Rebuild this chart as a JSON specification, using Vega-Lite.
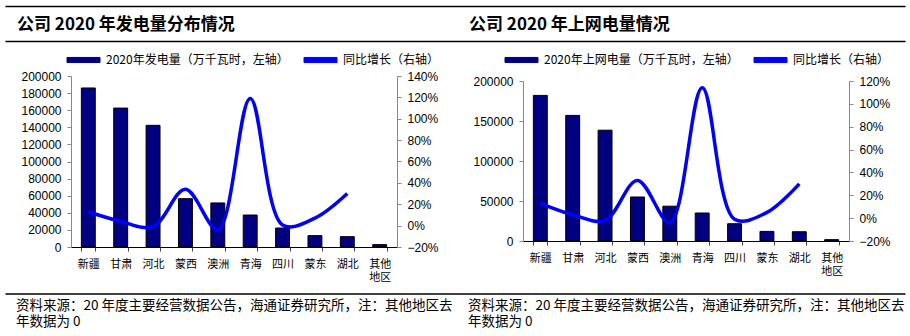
{
  "$schema": "https://vega.github.io/schema/vega-lite/v6.json",
  "padding": {"left": 5, "top": 6, "right": 5, "bottom": 0},
  "config": {"view": {"stroke": null}, "font": "Noto Sans CJK SC", "legend": {"labelLimit": 300}},
  "datasets": {
    "gen": [
      {"region": "新疆", "value": 186000, "yoy": 0.13},
      {"region": "甘肃", "value": 162500, "yoy": 0.04},
      {"region": "河北", "value": 142300, "yoy": -0.01},
      {"region": "蒙西", "value": 56500, "yoy": 0.34},
      {"region": "澳洲", "value": 51500, "yoy": -0.04},
      {"region": "青海", "value": 37400, "yoy": 1.19},
      {"region": "四川", "value": 22200, "yoy": 0.005},
      {"region": "蒙东", "value": 13300, "yoy": 0.07},
      {"region": "湖北", "value": 12100, "yoy": 0.30},
      {"region": "其他地区", "value": 2800, "yoy": null}
    ],
    "net": [
      {"region": "新疆", "value": 182000, "yoy": 0.13},
      {"region": "甘肃", "value": 157000, "yoy": 0.03},
      {"region": "河北", "value": 138500, "yoy": -0.02},
      {"region": "蒙西", "value": 55000, "yoy": 0.33},
      {"region": "澳洲", "value": 43500, "yoy": -0.04},
      {"region": "青海", "value": 35000, "yoy": 1.14},
      {"region": "四川", "value": 21600, "yoy": -0.01},
      {"region": "蒙东", "value": 12000, "yoy": 0.05},
      {"region": "湖北", "value": 11600, "yoy": 0.30},
      {"region": "其他地区", "value": 1700, "yoy": null}
    ]
  },
  "spacing": 7,
  "vconcat": [
    {
      "spacing": 0,
      "vconcat": [
        {
          "width": 900, "height": 29,
          "data": {"values": [{"left": "公司 2020 年发电量分布情况", "right": "公司 2020 年上网电量情况"}]},
          "layer": [
            {"mark": {"type": "text", "align": "left", "baseline": "middle", "fontSize": 17, "fontWeight": "bold", "dx": 12, "dy": 4.5, "color": "#000"},
             "encoding": {
               "text": {"field": "left"},
               "x": {"datum": 0, "type": "quantitative", "scale": {"domain": [0, 900], "nice": false},
                 "axis": {"orient": "top", "domain": true, "domainColor": "#000", "domainWidth": 1.5, "ticks": false, "labels": false, "grid": false, "title": null}},
               "y": {"datum": 0.5, "type": "quantitative", "scale": {"domain": [0, 1]}, "axis": null}}},
            {"mark": {"type": "text", "align": "left", "baseline": "middle", "fontSize": 17, "fontWeight": "bold", "dx": 14, "dy": 4.5, "color": "#000"},
             "encoding": {
               "text": {"field": "right"},
               "x": {"datum": 450, "type": "quantitative", "scale": {"domain": [0, 900], "nice": false}, "axis": null},
               "y": {"datum": 0.5, "type": "quantitative", "scale": {"domain": [0, 1]}, "axis": null}}}
          ],
          "resolve": {"scale": {"x": "independent"}, "axis": {"x": "independent"}}
        },
        {
          "width": 900, "height": 1,
          "data": {"values": [{"t": ""}]},
          "mark": {"type": "text"},
          "encoding": {
            "text": {"field": "t"},
            "x": {"datum": 0, "type": "quantitative", "scale": {"domain": [0, 900], "nice": false},
              "axis": {"orient": "top", "domain": true, "domainColor": "#000", "domainWidth": 1.5, "ticks": false, "labels": false, "grid": false, "title": null}}}
        }
      ]
    },
    {
      "spacing": 10.5,
      "vconcat": [
        {
          "spacing": 0,
          "resolve": {"scale": {"color": "independent"}, "legend": {"color": "independent"}},
          "hconcat": [
            {
              "spacing": 0,
              "vconcat": [
                {"width": 20, "height": 1, "data": {"values": [{"t": ""}]},
                 "mark": {"type": "text"},
                 "encoding": {"text": {"field": "t"}}},
                {
                  "width": 392, "height": 171,
                  "data": {"name": "gen"},
                  "encoding": {
                    "x": {"field": "region", "type": "nominal", "sort": null,
                      "scale": {"range": [66, 392], "paddingInner": 0.57, "paddingOuter": 0.32},
                      "axis": {"title": null, "labelAngle": 0, "labelFont": "Noto Sans CJK SC", "labelFontSize": 11, "labelColor": "#000",
                        "labelPadding": 7, "labelLineHeight": 13.5,
                        "labelExpr": "datum.value == '其他地区' ? ['其他', '地区'] : datum.label",
                        "tickBand": "extent", "tickSize": 4, "tickColor": "#444", "domainColor": "#000"}}
                  },
                  "layer": [
                    {"mark": {"type": "bar", "stroke": "#000", "strokeWidth": 1},
                     "encoding": {
                       "y": {"field": "value", "type": "quantitative", "scale": {"domain": [0, 200000]},
                         "axis": {"title": null, "offset": -66, "values": [0, 20000, 40000, 60000, 80000, 100000, 120000, 140000, 160000, 180000, 200000],
                           "format": "d", "labelFont": "Liberation Sans", "labelFontSize": 12, "labelColor": "#000",
                           "tickSize": 4, "labelPadding": 6, "domainColor": "#888", "tickColor": "#888", "grid": false}},
                       "color": {"datum": "2020年发电量（万千瓦时，左轴）",
                         "scale": {"domain": ["2020年发电量（万千瓦时，左轴）", "同比增长（右轴）"], "range": ["#000080", "#0000ff"]},
                         "legend": {"orient": "none", "legendX": 56, "legendY": -10, "direction": "horizontal", "title": null,
                           "symbolType": "M0,-0.85H11V0.85H0Z", "symbolSize": 36, "symbolStrokeWidth": 1,
                           "labelOffset": 33, "columnPadding": 9, "labelFontSize": 12, "labelFont": "Noto Sans CJK SC", "labelColor": "#000", "padding": 0, "labelLimit": 300,
                           "encode": {"symbols": {"update": {
                             "shape": {"signal": "datum.value === '同比增长（右轴）' ? 'M0,-0.55H11V0.55H0Z' : 'M0,-0.85H11V0.85H0Z'"},
                             "fill": {"signal": "datum.value === '同比增长（右轴）' ? '#0000ff' : '#000080'"},
                             "stroke": {"signal": "datum.value === '同比增长（右轴）' ? '#0000ff' : '#000000'"},
                             "strokeWidth": {"value": 1}}}}}}
                     }},
                    {"mark": {"type": "line", "interpolate": "catmull-rom", "strokeWidth": 3.5},
                     "encoding": {
                       "y": {"field": "yoy", "type": "quantitative", "scale": {"domain": [-0.2, 1.4]},
                         "axis": {"orient": "right", "title": null, "values": [-0.2, 0, 0.2, 0.4, 0.6, 0.8, 1.0, 1.2, 1.4], "format": ".0%",
                           "labelFont": "Liberation Sans", "labelFontSize": 12, "labelColor": "#000",
                           "tickSize": 4, "labelPadding": 6, "domainColor": "#888", "tickColor": "#888", "grid": false, "minExtent": 58}},
                       "color": {"datum": "同比增长（右轴）"}
                     }}
                  ],
                  "resolve": {"scale": {"y": "independent"}}
                }
              ]
            },
            {
              "spacing": 5,
              "vconcat": [
                {"width": 20, "height": 1, "data": {"values": [{"t": ""}]},
                 "mark": {"type": "text"},
                 "encoding": {"text": {"field": "t"}}},
                {
                  "width": 394, "height": 160,
                  "data": {"name": "net"},
                  "encoding": {
                    "x": {"field": "region", "type": "nominal", "sort": null,
                      "scale": {"range": [68, 394], "paddingInner": 0.57, "paddingOuter": 0.32},
                      "axis": {"title": null, "labelAngle": 0, "labelFont": "Noto Sans CJK SC", "labelFontSize": 11, "labelColor": "#000",
                        "labelPadding": 7, "labelLineHeight": 13.5,
                        "labelExpr": "datum.value == '其他地区' ? ['其他', '地区'] : datum.label",
                        "tickBand": "extent", "tickSize": 4, "tickColor": "#444", "domainColor": "#000"}}
                  },
                  "layer": [
                    {"mark": {"type": "bar", "stroke": "#000", "strokeWidth": 1},
                     "encoding": {
                       "y": {"field": "value", "type": "quantitative", "scale": {"domain": [0, 200000]},
                         "axis": {"title": null, "offset": -68, "values": [0, 50000, 100000, 150000, 200000],
                           "format": "d", "labelFont": "Liberation Sans", "labelFontSize": 12, "labelColor": "#000",
                           "tickSize": 4, "labelPadding": 6, "domainColor": "#888", "tickColor": "#888", "grid": false}},
                       "color": {"datum": "2020年上网电量（万千瓦时，左轴）",
                         "scale": {"domain": ["2020年上网电量（万千瓦时，左轴）", "同比增长（右轴）"], "range": ["#000080", "#0000ff"]},
                         "legend": {"orient": "none", "legendX": 44, "legendY": -10, "direction": "horizontal", "title": null,
                           "symbolType": "M0,-0.85H11V0.85H0Z", "symbolSize": 36, "symbolStrokeWidth": 1,
                           "labelOffset": 33, "columnPadding": 9, "labelFontSize": 12, "labelFont": "Noto Sans CJK SC", "labelColor": "#000", "padding": 0, "labelLimit": 300,
                           "encode": {"symbols": {"update": {
                             "shape": {"signal": "datum.value === '同比增长（右轴）' ? 'M0,-0.55H11V0.55H0Z' : 'M0,-0.85H11V0.85H0Z'"},
                             "fill": {"signal": "datum.value === '同比增长（右轴）' ? '#0000ff' : '#000080'"},
                             "stroke": {"signal": "datum.value === '同比增长（右轴）' ? '#0000ff' : '#000000'"},
                             "strokeWidth": {"value": 1}}}}}}
                     }},
                    {"mark": {"type": "line", "interpolate": "catmull-rom", "strokeWidth": 3.5},
                     "encoding": {
                       "y": {"field": "yoy", "type": "quantitative", "scale": {"domain": [-0.2, 1.2]},
                         "axis": {"orient": "right", "title": null, "values": [-0.2, 0, 0.2, 0.4, 0.6, 0.8, 1.0, 1.2], "format": ".0%",
                           "labelFont": "Liberation Sans", "labelFontSize": 12, "labelColor": "#000",
                           "tickSize": 4, "labelPadding": 6, "domainColor": "#888", "tickColor": "#888", "grid": false}},
                       "color": {"datum": "同比增长（右轴）"}
                     }}
                  ],
                  "resolve": {"scale": {"y": "independent"}}
                }
              ]
            }
          ]
        },
        {
          "width": 900, "height": 40,
          "data": {"values": [{"note": "资料来源：20 年度主要经营数据公告，海通证券研究所，注：其他地区去\n年数据为 0"}]},
          "layer": [
            {"mark": {"type": "text", "align": "left", "baseline": "top", "fontSize": 13.5, "lineBreak": "\n", "lineHeight": 16, "dx": 11, "dy": 5.5, "color": "#000"},
             "encoding": {
               "text": {"field": "note"},
               "x": {"datum": 0, "type": "quantitative", "scale": {"domain": [0, 900], "nice": false},
                 "axis": {"orient": "top", "domain": true, "domainColor": "#000", "domainWidth": 1.5, "ticks": false, "labels": false, "grid": false, "title": null}},
               "y": {"datum": 1, "type": "quantitative", "scale": {"domain": [0, 1]}, "axis": null}}},
            {"mark": {"type": "text", "align": "left", "baseline": "top", "fontSize": 13.5, "lineBreak": "\n", "lineHeight": 16, "dx": 13, "dy": 5.5, "color": "#000"},
             "encoding": {
               "text": {"field": "note"},
               "x": {"datum": 450, "type": "quantitative", "scale": {"domain": [0, 900], "nice": false}, "axis": null},
               "y": {"datum": 1, "type": "quantitative", "scale": {"domain": [0, 1]}, "axis": null}}}
          ],
          "resolve": {"scale": {"x": "independent"}, "axis": {"x": "independent"}}
        }
      ]
    }
  ]
}
